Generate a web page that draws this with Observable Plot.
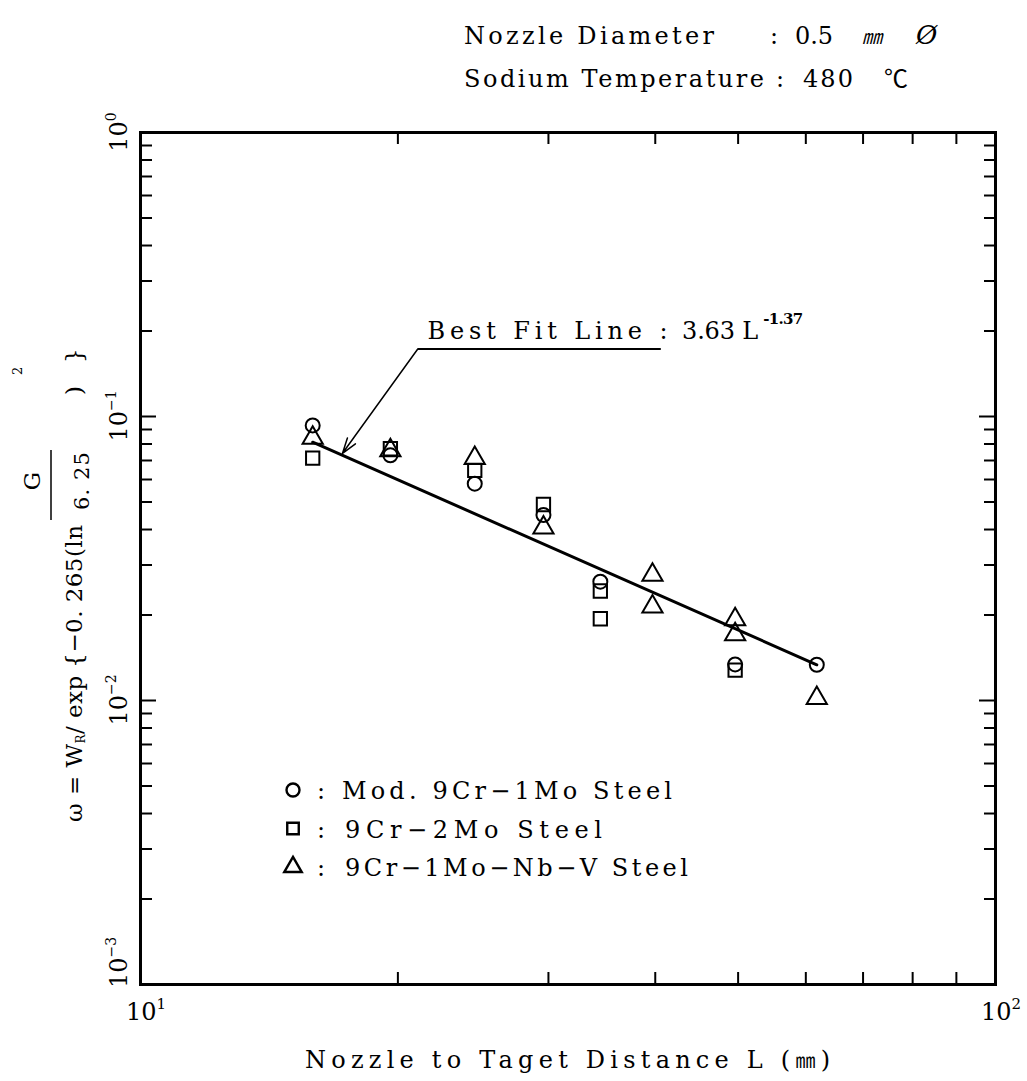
<!DOCTYPE html>
<html><head><meta charset="utf-8">
<script src="https://cdn.jsdelivr.net/npm/d3@7"></script>
<script src="https://cdn.jsdelivr.net/npm/@observablehq/plot@0.6"></script>
<style>
body{margin:0;background:#fff;}
#wrap{position:relative;width:1027px;height:1081px;background:#fff;}
#wrap svg{position:absolute;left:0;top:0;}
</style></head><body><div id="wrap"></div>
<script>
// ---- data ----
const mod9Cr1MoL = [15.9, 19.6, 24.6, 29.6, 34.5, 49.6, 61.8];
const mod9Cr1MoW = [0.093, 0.073, 0.058, 0.045, 0.0262, 0.0134, 0.01336];
const cr2MoL = [15.9, 19.6, 24.6, 29.6, 34.5, 34.5, 49.6];
const cr2MoW = [0.0713, 0.077, 0.0646, 0.049, 0.0243, 0.0194, 0.0128];
const nbVL = [15.9, 19.6, 24.6, 29.6, 39.7, 39.7, 49.6, 49.6, 61.8];
const nbVW = [0.084, 0.076, 0.0713, 0.0406, 0.0277, 0.0214, 0.0193, 0.0171, 0.0102];
const fitL = [15.9, 61.8];
const fitW = [0.0812, 0.01336];
const xDecades = [10, 100];
const xDecadeExp = ["1", "2"];
const yDecades = [1, 0.1, 0.01, 0.001];
const yDecadeExp = ["0", "\u22121", "\u22122", "\u22123"];
const xMinorTicks = [20, 30, 40, 50, 60, 70, 80, 90];
const yMinorTicks = [0.002,0.003,0.004,0.005,0.006,0.007,0.008,0.009,
                     0.02,0.03,0.04,0.05,0.06,0.07,0.08,0.09,
                     0.2,0.3,0.4,0.5,0.6,0.7,0.8,0.9];
const yInnerDecades = [0.01, 0.1];
const leader = [{x1: 40.6, y1: 0.1728, x2: 21.1, y2: 0.1728}];
const pointer = [{x1: 21.1, y1: 0.1728, x2: 17.23, y2: 0.0742}];
const fitLabel = [{x: 21.66, y: 0.2, text: "Best Fit Line :"}];
const fitFormula = [{x: 43.0, y: 0.2, text: "3.63 L"}];
const fitExponent = [{x: 53.5, y: 0.2205, text: "-1.37"}];

const W = 1027, H = 1081, ml = 140, mr = 32, mt = 132, mb = 97;
const innerW = W - ml - mr, innerH = H - mt - mb;
const rows = (Ls, Ws) => Ls.map((L, i) => ({L, w: Ws[i]}));
const serif = "'DejaVu Serif','Liberation Serif',serif";
const cjk = "'Noto Sans CJK JP',serif";

const dotStyle = {x: "L", y: "w", r: 7.5, stroke: "black", strokeWidth: 2, fill: "none"};

const chart = Plot.plot({
  width: W, height: H,
  marginTop: mt, marginRight: mr, marginBottom: mb, marginLeft: ml,
  x: {type: "log", domain: [10, 100], axis: null},
  y: {type: "log", domain: [0.001, 1], axis: null},
  style: {fontFamily: serif, background: "white", color: "black"},
  marks: [
    Plot.ruleY(yMinorTicks, {y: d => d, insetRight: innerW - 12, stroke: "black", strokeWidth: 2}),
    Plot.ruleY(yMinorTicks, {y: d => d, insetLeft: innerW - 11, stroke: "black", strokeWidth: 2}),
    Plot.ruleY(yInnerDecades, {y: d => d, insetRight: innerW - 16, stroke: "black", strokeWidth: 2}),
    Plot.ruleY(yInnerDecades, {y: d => d, insetLeft: innerW - 16, stroke: "black", strokeWidth: 2}),
    Plot.ruleX(xMinorTicks, {x: d => d, insetTop: innerH - 12, stroke: "black", strokeWidth: 2}),
    Plot.ruleX(xMinorTicks, {x: d => d, insetBottom: innerH - 12, stroke: "black", strokeWidth: 2}),
    Plot.frame({stroke: "black", strokeWidth: 3}),
    Plot.line(rows(fitL, fitW), {x: "L", y: "w", stroke: "black", strokeWidth: 3}),
    Plot.dot(rows(mod9Cr1MoL, mod9Cr1MoW), {...dotStyle, symbol: "circle", r: 7}),
    Plot.dot(rows(cr2MoL, cr2MoW), {...dotStyle, symbol: "square"}),
    Plot.dot(rows(nbVL, nbVW), {...dotStyle, symbol: "triangle"}),
    Plot.link(leader, {x1: "x1", y1: "y1", x2: "x2", y2: "y2", stroke: "black", strokeWidth: 2}),
    Plot.arrow(pointer, {x1: "x1", y1: "y1", x2: "x2", y2: "y2", stroke: "black", strokeWidth: 1.5, headLength: 16, headAngle: 36, bend: 0}),
    Plot.text(fitLabel, {x: "x", y: "y", text: "text", textAnchor: "start", fontSize: 24, fill: "black", className: "fitlabel"}),
    Plot.text(fitFormula, {x: "x", y: "y", text: "text", textAnchor: "start", fontSize: 24, fill: "black", className: "fitformula"}),
    Plot.text(fitExponent, {x: "x", y: "y", text: "text", textAnchor: "start", fontSize: 15, fontWeight: "bold", fill: "black", className: "fitexp"})
  ]
});
document.getElementById("wrap").appendChild(chart);
d3.select(chart).select(".fitlabel text").attr("textLength", 240).attr("lengthAdjust", "spacing");
d3.select(chart).select(".fitformula text").attr("textLength", 76).attr("lengthAdjust", "spacing");
d3.select(chart).select(".fitexp text").attr("textLength", 40).attr("lengthAdjust", "spacing");

const sx = chart.scale("x"), sy = chart.scale("y");

// ---- overlay: tick labels, titles, axis label, legend ----
const ov = d3.select("#wrap").append("svg").attr("width", W).attr("height", H)
  .style("font-family", serif).attr("fill", "black");

function t(x, y, str, size, len, extra) {
  const e = ov.append("text").attr("x", x).attr("y", y).attr("font-size", size).text(str);
  if (len) e.attr("textLength", len).attr("lengthAdjust", "spacing");
  if (extra) extra(e);
  return e;
}

// y decade labels (rotated, reading upward)
yDecades.forEach((v, i) => {
  const py = sy.apply(v);
  const last = i === yDecades.length - 1;
  const g = ov.append("g").attr("transform", `translate(127,${last ? py + 4 : py}) rotate(-90)`);
  const tx = g.append("text").attr("font-size", 24).attr("text-anchor", last ? "start" : "middle");
  tx.append("tspan").text("10");
  tx.append("tspan").attr("font-size", 14).attr("dy", -11).text(yDecadeExp[i]);
});
// x decade labels
xDecades.forEach((v, i) => {
  const px = sx.apply(v);
  const tx = ov.append("text").attr("x", px + 6).attr("y", 1020).attr("font-size", 24).attr("text-anchor", "middle");
  tx.append("tspan").text("10");
  tx.append("tspan").attr("font-size", 15).attr("dy", -11).text(xDecadeExp[i]);
});

// header
t(464, 44, "Nozzle Diameter", 24, 250);
t(770, 44, ":", 24);
t(795, 44, "0.5", 24, 38);
t(862, 44, "\u339C", 20, null, e => e.attr("font-style", "italic").attr("font-family", cjk));
t(916, 44, "\u00D8", 26, null, e => e.attr("font-style", "italic"));
t(464, 87, "Sodium Temperature", 24, 300);
t(776, 87, ":", 24);
t(803, 87, "480", 24, 50);
t(884, 87, "\u2103", 24, null, e => e.attr("font-family", cjk));

// x axis title
const xl = ov.append("text").attr("x", 305).attr("y", 1068).attr("font-size", 24)
  .attr("textLength", 525).attr("lengthAdjust", "spacing");
xl.append("tspan").text("Nozzle to Taget Distance L (");
xl.append("tspan").attr("font-family", cjk).attr("font-size", 20).text("\u339C");
xl.append("tspan").text(")");

// y axis title (rotated)
const yg = ov.append("g").attr("transform", "translate(82,822) rotate(-90)");
const ym = yg.append("text").attr("x", 0).attr("y", 0).attr("font-size", 23)
  .attr("textLength", 297).attr("lengthAdjust", "spacing");
ym.append("tspan").text("\u03C9 = W");
ym.append("tspan").attr("font-size", 12).attr("dy", 3).text("R");
ym.append("tspan").attr("dy", -3).text("/ exp {\u22120. 265(ln");
yg.append("text").attr("x", 341).attr("y", -42).attr("font-size", 23).attr("text-anchor", "middle").text("G");
yg.append("line").attr("x1", 302).attr("x2", 372).attr("y1", -31).attr("y2", -31).attr("stroke", "black").attr("stroke-width", 1.5);
yg.append("text").attr("x", 341).attr("y", 7).attr("font-size", 21).attr("text-anchor", "middle")
  .attr("textLength", 58).attr("lengthAdjust", "spacing").text("6. 25");
yg.append("text").attr("x", 427).attr("y", 0).attr("font-size", 23).text(")");
yg.append("text").attr("x", 447).attr("y", -60).attr("font-size", 13).text("2");
yg.append("text").attr("x", 459).attr("y", 0).attr("font-size", 23).text("}");

// legend
const legendNames = ["Mod. 9Cr\u22121Mo Steel", "9Cr\u22122Mo Steel", "9Cr\u22121Mo\u2212Nb\u2212V Steel"];
const legendSymbols = [d3.symbolCircle, d3.symbolSquare, d3.symbolTriangle];
const legendLen = [330, 257, 343];
const legendTextX = [342, 345, 345];
legendNames.forEach((name, i) => {
  const cy = 790 + i * 38.5;
  ov.append("path").attr("d", d3.symbol(legendSymbols[i], Math.PI * 6.5 * 6.5)())
    .attr("transform", `translate(293,${cy})`).attr("fill", "none").attr("stroke", "black").attr("stroke-width", 2.4);
  t(317, cy + 9, ":", 24);
  t(legendTextX[i], cy + 9, name, 24, legendLen[i]);
});
</script></body></html>
